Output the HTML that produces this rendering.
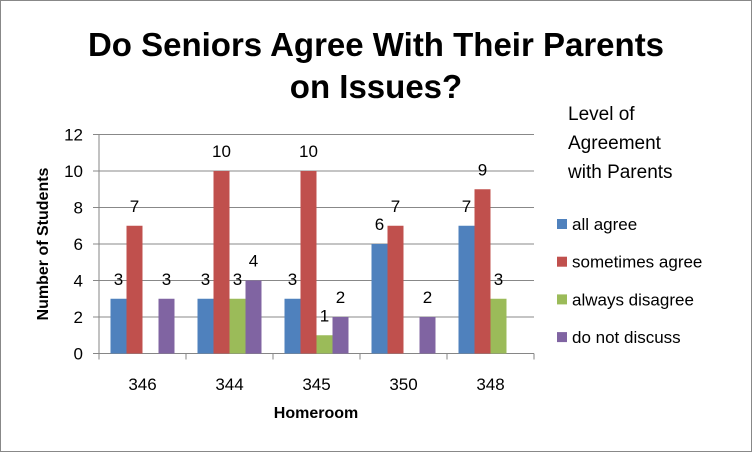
<!DOCTYPE html>
<html><head><meta charset="utf-8"><style>
body{margin:0;background:#fff;}
svg text{font-family:"Liberation Sans",Calibri,sans-serif;}
</style></head><body>
<svg width="752" height="452" viewBox="0 0 752 452">
<rect x="0.5" y="0.5" width="751" height="451" fill="#fff" stroke="#888"/>
<text x="376" y="56" text-anchor="middle" font-size="33" font-weight="bold" fill="#000">Do Seniors Agree With Their Parents</text>
<text x="376" y="98" text-anchor="middle" font-size="33" font-weight="bold" fill="#000">on Issues?</text>
<g id="grid"></g>
<g id="bars"></g>
<g id="axes"></g>
<text transform="translate(48,244) rotate(-90)" text-anchor="middle" font-size="16" font-weight="bold">Number of Students</text>
<text x="316" y="418" text-anchor="middle" font-size="16" font-weight="bold">Homeroom</text>
<g>
<text x="568" y="120" font-size="19">Level of</text>
<text x="568" y="149" font-size="19">Agreement</text>
<text x="568" y="178" font-size="19">with Parents</text>
<g id="legend-items"></g>
</g>
</svg>
<script>
const categories=["346","344","345","350","348"];
const seriesNames=["all agree","sometimes agree","always disagree","do not discuss"];
const allAgree=[3,3,3,6,7];
const sometimesAgree=[7,10,10,7,9];
const alwaysDisagree=[0,3,1,0,3];
const doNotDiscuss=[3,4,2,2,0];
const yTicks=[0,2,4,6,8,10,12];
const series=[allAgree,sometimesAgree,alwaysDisagree,doNotDiscuss];
const colors=["#4f81bd","#c0504d","#9bbb59","#8064a2"];
const NS="http://www.w3.org/2000/svg";
const x0=99,x1=534,y0=353.5,yTop=134.5,yMax=12;
const yS=v=>y0-(v/yMax)*(y0-yTop);
const cw=(x1-x0)/categories.length, bw=16;
function mk(t,a,p){const e=document.createElementNS(NS,t);for(const k in a)e.setAttribute(k,a[k]);(p||document.getElementById('bars')).appendChild(e);return e;}
const grid=document.getElementById('grid'),axes=document.getElementById('axes');
yTicks.forEach(v=>{
 const l=mk('line',{x1:x0-6,x2:x1,y1:yS(v),y2:yS(v),stroke:v===0?'#868686':'#888','stroke-width':1},grid);
 
 
 const t=mk('text',{x:x0-16,y:yS(v)+6,'text-anchor':'end','font-size':17},axes);
 t.textContent=v;
 
 
});
mk('line',{x1:x0,x2:x0,y1:yTop,y2:y0+6,stroke:'#868686'},axes);
for(let i=0;i<=categories.length;i++){mk('line',{x1:x0+i*cw,x2:x0+i*cw,y1:y0,y2:y0+6,stroke:'#868686'},axes);}
categories.forEach((c,i)=>{
 const t=mk('text',{x:x0+(i+0.5)*cw,y:390,'text-anchor':'middle','font-size':17},axes);
 t.textContent=c;
 
 
 series.forEach((s,j)=>{
  const v=s[i];
  const bx=x0+i*cw+(cw-4*bw)/2+j*bw;
  const r=mk('rect',{x:bx,y:yS(v),width:bw,height:y0-yS(v),fill:colors[j]});
  
  
  if(v>0){
   const lt=mk('text',{x:bx+bw/2,y:yS(v)-14,'text-anchor':'middle','font-size':17});
   lt.textContent=v;
   
   
  }
 });
});
const li=document.getElementById('legend-items');
seriesNames.forEach((n,j)=>{
 const y=224+j*37.7;
 const r=mk('rect',{x:557,y:y-5,width:10,height:10,fill:colors[j]},li);
 
 
 const t=mk('text',{x:572,y:y+6,'font-size':17},li);
 t.textContent=n;
 
 
});
</script>
</body></html>
